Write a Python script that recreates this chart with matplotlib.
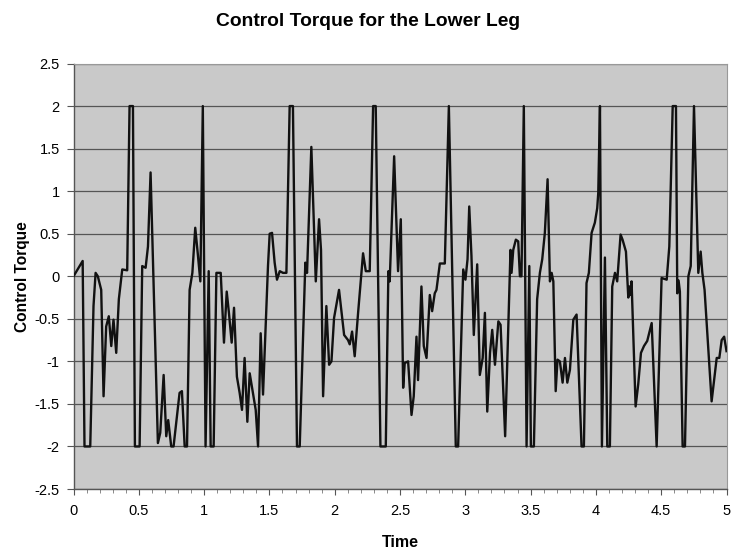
import matplotlib
matplotlib.use("Agg")
import matplotlib.pyplot as plt
import numpy as np

plt.rcParams['font.family'] = ['Liberation Sans', 'DejaVu Sans']

time = [
    0.000, 0.070, 0.084, 0.128, 0.153, 0.169, 0.186, 0.212, 0.230, 0.250,
    0.270, 0.289, 0.306, 0.327, 0.347, 0.373, 0.411, 0.429, 0.455, 0.470,
    0.506, 0.526, 0.552, 0.570, 0.590, 0.646, 0.664, 0.690, 0.710, 0.725,
    0.748, 0.766, 0.812, 0.830, 0.851, 0.869, 0.889, 0.910, 0.932, 0.953,
    0.971, 0.990, 1.011, 1.035, 1.050, 1.073, 1.094, 1.127, 1.152, 1.173,
    1.190, 1.211, 1.229, 1.251, 1.272, 1.290, 1.310, 1.331, 1.349, 1.369,
    1.395, 1.413, 1.433, 1.451, 1.471, 1.489, 1.502, 1.520, 1.540, 1.558,
    1.579, 1.604, 1.630, 1.655, 1.680, 1.711, 1.732, 1.775, 1.788, 1.821,
    1.855, 1.880, 1.895, 1.911, 1.936, 1.957, 1.975, 1.995, 2.033, 2.072,
    2.102, 2.115, 2.133, 2.153, 2.179, 2.217, 2.238, 2.268, 2.294, 2.314,
    2.350, 2.391, 2.411, 2.421, 2.455, 2.485, 2.506, 2.524, 2.536, 2.562,
    2.588, 2.605, 2.626, 2.638, 2.664, 2.682, 2.703, 2.728, 2.746, 2.766,
    2.779, 2.805, 2.843, 2.874, 2.927, 2.945, 2.984, 3.001, 3.017, 3.030,
    3.047, 3.065, 3.091, 3.111, 3.133, 3.150, 3.168, 3.189, 3.206, 3.227,
    3.253, 3.270, 3.305, 3.346, 3.354, 3.367, 3.387, 3.405, 3.418, 3.430,
    3.448, 3.469, 3.490, 3.502, 3.525, 3.550, 3.571, 3.589, 3.609, 3.630,
    3.648, 3.661, 3.674, 3.692, 3.706, 3.724, 3.745, 3.763, 3.781, 3.801,
    3.827, 3.852, 3.890, 3.908, 3.928, 3.946, 3.967, 3.992, 4.010, 4.018,
    4.031, 4.046, 4.069, 4.087, 4.107, 4.125, 4.146, 4.163, 4.189, 4.204,
    4.230, 4.248, 4.256, 4.262, 4.273, 4.304, 4.324, 4.345, 4.368, 4.393,
    4.427, 4.465, 4.503, 4.542, 4.562, 4.588, 4.613, 4.623, 4.633, 4.643,
    4.664, 4.682, 4.708, 4.726, 4.751, 4.784, 4.802, 4.815, 4.832, 4.886,
    4.925, 4.945, 4.963, 4.982, 5.000,
]

torque = [
    0.00, 0.18, -2.00, -2.00, -0.35, 0.04, 0.00, -0.16, -1.41, -0.59,
    -0.47, -0.82, -0.51, -0.90, -0.27, 0.08, 0.07, 2.00, 2.00, -2.00,
    -2.00, 0.12, 0.10, 0.35, 1.22, -1.96, -1.84, -1.16, -1.88, -1.69,
    -2.00, -2.00, -1.37, -1.35, -2.00, -2.00, -0.16, 0.04, 0.57, 0.24,
    -0.06, 2.00, -2.00, 0.06, -2.00, -2.00, 0.04, 0.04, -0.78, -0.18,
    -0.43, -0.78, -0.37, -1.18, -1.37, -1.57, -0.96, -1.71, -1.14, -1.33,
    -1.57, -2.00, -0.67, -1.39, -0.59, 0.12, 0.50, 0.51, 0.16, -0.04,
    0.06, 0.04, 0.04, 2.00, 2.00, -2.00, -2.00, 0.16, 0.04, 1.52,
    -0.06, 0.67, 0.31, -1.41, -0.35, -1.04, -1.00, -0.49, -0.16, -0.69,
    -0.75, -0.80, -0.65, -0.94, -0.43, 0.27, 0.06, 0.06, 2.00, 2.00,
    -2.00, -2.00, 0.06, -0.06, 1.41, 0.06, 0.67, -1.31, -1.02, -1.00,
    -1.63, -1.41, -0.71, -1.22, -0.12, -0.82, -0.96, -0.22, -0.41, -0.20,
    -0.16, 0.15, 0.15, 2.00, -2.00, -2.00, 0.08, -0.04, 0.20, 0.82,
    0.24, -0.69, 0.14, -1.16, -0.96, -0.43, -1.59, -0.90, -0.63, -1.04,
    -0.53, -0.57, -1.88, 0.31, 0.04, 0.31, 0.43, 0.41, 0.00, 0.00,
    2.00, -2.00, 0.12, -2.00, -2.00, -0.27, 0.04, 0.20, 0.51, 1.14,
    -0.06, 0.04, -0.06, -1.35, -0.98, -1.00, -1.25, -0.96, -1.25, -1.10,
    -0.51, -0.45, -2.00, -2.00, -0.08, 0.04, 0.51, 0.63, 0.80, 0.98,
    2.00, -2.00, 0.22, -2.00, -2.00, -0.12, 0.04, -0.06, 0.49, 0.43,
    0.29, -0.25, -0.12, -0.22, -0.06, -1.53, -1.27, -0.90, -0.82, -0.76,
    -0.55, -2.00, -0.02, -0.04, 0.35, 2.00, 2.00, -0.20, -0.05, -0.18,
    -2.00, -2.00, 0.00, 0.12, 2.00, 0.04, 0.29, 0.04, -0.16, -1.47,
    -0.96, -0.96, -0.75, -0.71, -0.88,
]

y_ticks = [-2.5, -2, -1.5, -1, -0.5, 0, 0.5, 1, 1.5, 2, 2.5]
y_labels = ["-2.5", "-2", "-1.5", "-1", "-0.5", "0", "0.5", "1", "1.5", "2", "2.5"]
x_ticks = [0, 0.5, 1, 1.5, 2, 2.5, 3, 3.5, 4, 4.5, 5]
x_labels = ["0", "0.5", "1", "1.5", "2", "2.5", "3", "3.5", "4", "4.5", "5"]

fig = plt.figure(figsize=(7.36, 5.5), dpi=100)
ax = fig.add_axes([0.0999, 0.1109, 0.8872, 0.7736])
ax.set_facecolor('#c9c9c9')

ax.plot(time, torque, color='#111111', linewidth=1.7, zorder=3)

ax.set_xlim(0, 5)
ax.set_ylim(-2.5, 2.5)
ax.set_yticks(y_ticks)
ax.set_yticklabels(y_labels)
ax.set_xticks(x_ticks)
ax.set_xticklabels(x_labels)
ax.set_xticks(np.arange(0, 5.01, 0.1), minor=True)
ax.tick_params(axis='x', which='major', length=4, width=0.8, color='#555555', labelsize=10.5, pad=7)
ax.tick_params(axis='x', which='minor', length=3, width=0.6, color='#777777')
ax.tick_params(axis='y', which='major', length=5, width=0.8, color='#555555', labelsize=10.5, pad=5)

ax.yaxis.grid(True, color='#555555', linewidth=0.9, zorder=1)
ax.set_axisbelow(True)

for side in ['left', 'bottom']:
    ax.spines[side].set_color('#555555')
    ax.spines[side].set_linewidth(1.0)
for side in ['top', 'right']:
    ax.spines[side].set_color('#999999')
    ax.spines[side].set_linewidth(0.8)

ax.set_xlabel('Time', fontsize=11.5, fontweight='bold', labelpad=12)
ax.set_ylabel('Control Torque', fontsize=11.2, fontweight='bold', labelpad=3)
fig.text(0.5, 1 - 21 / 550, 'Control Torque for the Lower Leg',
         ha='center', va='center', fontsize=13.9, fontweight='bold')

fig.savefig('out.png', dpi=100)
